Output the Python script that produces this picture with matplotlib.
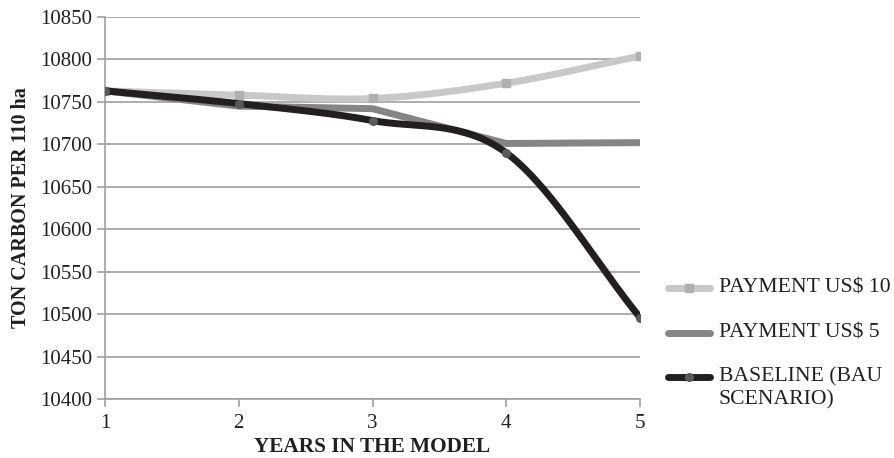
import matplotlib.pyplot as plt
import numpy as np

plt.rcParams['font.family'] = ['Liberation Serif', 'DejaVu Serif']

years = [1, 2, 3, 4, 5]
payment_10 = [10763, 10758, 10754, 10772, 10804]
payment_5 = [10763, 10745, 10742, 10701, 10702]
baseline = [10763, 10748, 10728, 10690, 10496]
labels = ['PAYMENT US$ 10', 'PAYMENT US$ 5', 'BASELINE (BAU', 'SCENARIO)']


def smooth(x, y, n=40):
    # Catmull-Rom curve through the points, like spreadsheet "smoothed lines"
    x = np.asarray(x, float)
    y = np.asarray(y, float)
    px = np.concatenate([[2 * x[0] - x[1]], x, [2 * x[-1] - x[-2]]])
    py = np.concatenate([[2 * y[0] - y[1]], y, [2 * y[-1] - y[-2]]])
    xs, ys = [], []
    t = np.linspace(0, 1, n)
    for i in range(1, len(px) - 2):
        for p, out in ((px, xs), (py, ys)):
            p0, p1, p2, p3 = p[i - 1], p[i], p[i + 1], p[i + 2]
            out.extend(0.5 * ((2 * p1) + (-p0 + p2) * t
                              + (2 * p0 - 5 * p1 + 4 * p2 - p3) * t ** 2
                              + (-p0 + 3 * p1 - 3 * p2 + p3) * t ** 3))
    return xs, ys


W, H = 894, 458
fig = plt.figure(figsize=(W / 100, H / 100), dpi=100)
ax = fig.add_axes([105 / W, 59 / H, 535 / W, 382 / H])

c10, c5, cb = '#c8c8c8', '#858585', '#231f20'
m10, mb = '#b0b0b0', '#5a5a5a'
lw = 5

sx, sy = smooth(years, payment_10)
ax.plot(sx, sy, color=c10, lw=lw, solid_capstyle='round', zorder=3)
ax.plot(years, payment_10, 's', color=m10, ms=5.5, zorder=4)

ax.plot(years, payment_5, color=c5, lw=lw, solid_capstyle='round',
        solid_joinstyle='round', zorder=4)

sx, sy = smooth(years, baseline)
ax.plot(sx, sy, color=cb, lw=lw, solid_capstyle='round', zorder=5)
ax.plot(years, baseline, 'o', color=mb, ms=5.5, zorder=6)

ax.set_xlim(1, 5)
ax.set_ylim(10400, 10850)
ax.set_xticks(years)
ax.set_yticks(np.arange(10400, 10851, 50))
ax.yaxis.grid(True, color='#a0a0a0', lw=1.2)
ax.set_axisbelow(True)
for s in ('top', 'right'):
    ax.spines[s].set_visible(False)
for s in ('left', 'bottom'):
    ax.spines[s].set_color('#a0a0a0')
    ax.spines[s].set_linewidth(1.2)
ax.tick_params(colors='#a0a0a0', labelcolor='#231f20', labelsize=15,
               length=6, width=1.2)
ax.tick_params(axis='x', pad=5)
ax.set_xlabel('YEARS IN THE MODEL', fontsize=15.3, fontweight='bold',
              color='#231f20', labelpad=2.5)
ax.set_ylabel('TON CARBON PER 110 ha', fontsize=14.5, fontweight='bold',
              color='#231f20', labelpad=6)

# legend built by hand so the two-line entry keeps its key on the first line
keys = [(c10, 's', m10), (c5, None, c5), (cb, 'o', mb)]
rows = [288, 333, 377]
for (col, mk, mc), y in zip(keys, rows):
    fy = 1 - y / H
    fig.add_artist(plt.Line2D([668 / W, 710 / W], [fy, fy], color=col, lw=lw,
                              solid_capstyle='round'))
    if mk:
        fig.add_artist(plt.Line2D([689 / W], [fy], marker=mk, color=mc,
                                  ms=5.5))
for text, y in zip(labels, rows + [400]):
    fig.text(719 / W, 1 - y / H, text, fontsize=15.6, color='#231f20',
             va='center', ha='left')

fig.savefig('out.png', dpi=100)
